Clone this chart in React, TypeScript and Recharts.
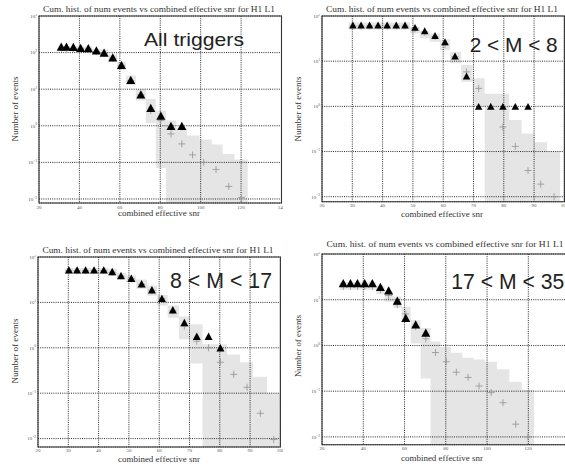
import React from 'react';
import { ComposedChart, Area, Scatter, XAxis, YAxis, CartesianGrid, ReferenceArea } from 'recharts';

// a lower bound of zero, below the bottom of every log axis
const ZERO = 1e-4;

// All triggers
const binEdges1 = [29.7, 32.3, 35.3, 38.8, 42.5, 46.4, 50.3, 54.3, 58.6, 63.1, 67.9, 72.8, 77.8, 82.8, 88, 93.3, 99.5, 105.5, 110.9, 116.7, 123.3];
const bandLo1 = [110, 110, 108, 106, 104, 90, 79, 58, 33, 13, 4.9, 1.2, 0.07, ZERO, ZERO, ZERO, ZERO, ZERO, ZERO, ZERO, ZERO];
const bandHi1 = [152, 152, 150, 148, 146, 126, 123, 89, 56, 23.6, 10, 5.4, 2.6, 1.4, 0.85, 0.54, 0.42, 0.31, 0.17, 0.12, 0.12];
const trigX1 = [31, 33.6, 37, 40.6, 44.4, 48.4, 52.2, 56.5, 60.8, 65.4, 70.4, 75.3, 80.3, 85.3, 90.7];
const trigY1 = [145, 145, 143, 135, 133, 115, 100, 74, 46, 18, 7.2, 3.1, 1.9, 1.0, 1.0];
const bgX1 = [31, 33.6, 37, 40.6, 44.4, 48.4, 52.2, 56.5, 60.8, 65.4, 70.4, 75.3, 80.3, 85.3, 90.7, 96, 101.5, 107.6, 113.9, 120.2];
const bgY1 = [130, 130, 128, 126, 124, 106, 96, 70, 44, 17, 7, 2.6, 1.4, 0.6, 0.32, 0.16, 0.1, 0.064, 0.022, 0.011];

// 2 < M < 8
const binEdges2 = [28.8, 31.5, 34.3, 37.1, 40, 43, 46, 49, 52.3, 55.5, 58.9, 62.3, 65.9, 69.7, 73.7, 77.7, 81.8, 85.9, 90.1, 94.3, 98.6];
const bandLo2 = [50, 50, 50, 50, 50, 50, 50, 41, 32, 27, 17.5, 9, 3.5, 1.0, ZERO, ZERO, ZERO, ZERO, ZERO, ZERO, ZERO];
const bandHi2 = [72, 72, 72, 72, 72, 72, 72, 58, 47, 41, 30, 16, 8.2, 4.2, 1.9, 1.9, 0.5, 0.25, 0.16, 0.1, 0.1];
const trigX2 = [30.2, 32.9, 35.7, 38.5, 41.5, 44.5, 47.4, 50.7, 53.9, 57.3, 60.6, 63.9, 67.7, 71.7, 75.7, 79.7, 83.8, 88];
const trigY2 = [63, 63, 63, 63, 63, 63, 63, 56, 47, 37, 27, 13, 4.7, 1, 1, 1, 1, 1];
const bgX2 = [30.2, 32.9, 35.7, 38.5, 41.5, 44.5, 47.4, 50.7, 53.9, 57.3, 60.6, 63.9, 67.7, 71.7, 75.7, 79.7, 83.8, 88, 92.2, 96.6];
const bgY2 = [60, 60, 60, 60, 60, 60, 60, 52, 44, 35, 23, 12.5, 5.8, 2.5, 1.0, 0.35, 0.13, 0.038, 0.019, 0.01];

// 8 < M < 17
const binEdges3 = [28.8, 31.5, 34.3, 37.1, 40.1, 43.1, 46, 49, 52.4, 56, 59.3, 62.8, 66.5, 70.3, 74.3, 78.4, 82.4, 86.7, 91, 95.6, 100.2];
const bandLo3 = [42, 42, 42, 42, 42, 39, 33, 28, 20, 14, 8.5, 4.6, 1.55, 0.45, ZERO, ZERO, ZERO, ZERO, ZERO, ZERO, ZERO];
const bandHi3 = [57, 57, 57, 57, 57, 55, 45, 39, 32, 23.5, 14.6, 8.5, 4.9, 3.3, 1.2, 1.2, 0.71, 0.48, 0.23, 0.1, 0.1];
const trigX3 = [30.2, 32.9, 35.7, 38.5, 41.7, 44.5, 47.4, 50.8, 54.2, 57.6, 60.9, 64.5, 68.3, 72.4, 76.3, 80.2];
const trigY3 = [52, 52, 52, 52, 52, 48, 39, 34, 25.7, 19, 12.3, 6.9, 3.6, 1.8, 1.8, 1.0];
const bgX3 = [30.2, 32.9, 35.7, 38.5, 41.7, 44.5, 47.4, 50.8, 54.2, 57.6, 60.9, 64.5, 68.3, 72.4, 76.3, 80.2, 84.6, 89, 93.4, 97.8];
const bgY3 = [50, 50, 50, 50, 50, 46, 38, 33, 25, 18.5, 12, 6.5, 3.0, 1.4, 1.0, 0.48, 0.26, 0.135, 0.036, 0.0096];

// 17 < M < 35
const binEdges4 = [28.6, 32, 35.5, 39, 42.5, 46.3, 50.3, 54.4, 58.5, 63, 67.8, 72.6, 77.5, 82.5, 88, 93.5, 99, 104.8, 110.8, 116.8, 122.8];
const bandLo4 = [16.5, 16.5, 16.5, 16.5, 16.5, 13.3, 9, 6.6, 3.35, 1.1, 0.19, ZERO, ZERO, ZERO, ZERO, ZERO, ZERO, ZERO, ZERO, ZERO, ZERO];
const bandHi4 = [24, 24, 24, 24, 24, 20.5, 15, 11.8, 7, 3.6, 2.4, 1.22, 0.93, 0.69, 0.54, 0.49, 0.44, 0.3, 0.16, 0.107, 0.107];
const trigX4 = [30.3, 33.8, 37.2, 40.7, 44.4, 48.3, 52.3, 56.5, 60.6, 65.4, 70.3];
const trigY4 = [23, 23, 23, 23, 23, 19, 16, 9.6, 4, 2.9, 1.9];
const bgX4 = [30.3, 33.8, 37.2, 40.7, 44.4, 48.3, 52.3, 56.5, 60.6, 65.4, 70.3, 75, 80.2, 85.1, 90.8, 96.1, 102, 107.7, 113.9, 119.8];
const bgY4 = [19.5, 19.5, 19.5, 19.5, 19.5, 16.5, 12.4, 7.8, 4.9, 2.6, 1.4, 0.7, 0.44, 0.26, 0.2, 0.13, 0.093, 0.056, 0.019, 0.01];

const xTicksWide = [20, 40, 60, 80, 100, 120, 140];
const xTicksNarrow = [20, 30, 40, 50, 60, 70, 80, 90, 100];
const yTicks3 = [0.01, 0.1, 1, 10, 100, 1000];
const yTicks2 = [0.01, 0.1, 1, 10, 100];

const TITLE = 'Cum. hist. of num events vs combined effective snr for H1 L1';

const panels = [
  {
    label: 'All triggers', edges: binEdges1, lo: bandLo1, hi: bandHi1, tx: trigX1, ty: trigY1, bx: bgX1, by: bgY1,
    xMax: 140, xTicks: xTicksWide, yMin: Math.pow(10, -2.11), yMax: 1000, yTicks: yTicks3,
    box: { left: 38.5, right: 281, top: 16, bottom: 203 }, tri: 9,
    title: { x: 159, y: 12, w: 232 }, xl: { x: 159, y: 216 }, yl: { x: 17.5, y: 109, w: 65 },
    big: { x: 144, y: 46, w: 100, s: 19 },
  },
  {
    label: '2 < M < 8', edges: binEdges2, lo: bandLo2, hi: bandHi2, tx: trigX2, ty: trigY2, bx: bgX2, by: bgY2,
    xMax: 100, xTicks: xTicksNarrow, yMin: Math.pow(10, -2.11), yMax: 100, yTicks: yTicks2,
    box: { left: 321.8, right: 564.2, top: 16, bottom: 201.7 }, tri: 7.5,
    title: { x: 442, y: 12, w: 232 }, xl: { x: 442, y: 216.5 }, yl: { x: 300.5, y: 109, w: 65 },
    big: { x: 469.7, y: 51.7, w: 88, s: 21 },
  },
  {
    label: '8 < M < 17', edges: binEdges3, lo: bandLo3, hi: bandHi3, tx: trigX3, ty: trigY3, bx: bgX3, by: bgY3,
    xMax: 100, xTicks: xTicksNarrow, yMin: Math.pow(10, -2.185), yMax: 100, yTicks: yTicks2,
    box: { left: 38.3, right: 280.7, top: 256.7, bottom: 446.7 }, tri: 8,
    title: { x: 158, y: 253, w: 231 }, xl: { x: 159, y: 462 }, yl: { x: 17.5, y: 351, w: 65 },
    big: { x: 170, y: 288.3, w: 102, s: 22 },
  },
  {
    label: '17 < M < 35', edges: binEdges4, lo: bandLo4, hi: bandHi4, tx: trigX4, ty: trigY4, bx: bgX4, by: bgY4,
    xMax: 140, xTicks: xTicksWide, yMin: Math.pow(10, -2.17), yMax: 100, yTicks: yTicks2,
    box: { left: 322.3, right: 569.9, top: 254.3, bottom: 445 }, tri: 9,
    title: { x: 445, y: 247.3, w: 237 }, xl: { x: 442, y: 460.5 }, yl: { x: 300.5, y: 346, w: 62 },
    big: { x: 451.3, y: 289.3, w: 113, s: 22 },
  },
];

const YW = 30;
const XH = 12;
const MT = 2;
const MR = 2;

const YTick = (props: any) => {
  const { x, y, payload } = props;
  const e = Math.round(Math.log10(payload.value));
  return (
    <text x={x} y={y + 1.8} textAnchor="end" fontSize={5} fill="#555" fontFamily="Liberation Serif">
      10<tspan dy={-2.2} fontSize={3.6}>{e < 0 ? '\u2212' + -e : String(e)}</tspan>
    </text>
  );
};

const XTick = (props: any) => {
  const { x, y, payload } = props;
  return (
    <text x={x} y={y + 4.5} textAnchor="middle" fontSize={5} fill="#555" fontFamily="Liberation Serif">
      {payload.value}
    </text>
  );
};

const triShape = (size: number) => (props: any) => {
  const { cx, cy } = props;
  const h = size * 0.92;
  return (
    <polygon
      points={`${cx},${cy - h / 2} ${cx - size / 2},${cy + h / 2} ${cx + size / 2},${cy + h / 2}`}
      fill="#000"
    />
  );
};

const PlusShape = (props: any) => {
  const { cx, cy } = props;
  return (
    <g stroke="#9a9a9a" strokeWidth={0.9}>
      <line x1={cx - 3.5} y1={cy} x2={cx + 3.5} y2={cy} />
      <line x1={cx} y1={cy - 3.5} x2={cx} y2={cy + 3.5} />
    </g>
  );
};

function Panel({ p }: { p: any }) {
  const { box } = p;
  const width = box.right - box.left + YW + MR;
  const height = box.bottom - box.top + MT + XH;
  const band = p.edges.map((x: number, i: number) => ({ x, band: [p.lo[i], p.hi[i]] }));
  const trig = p.tx.map((x: number, i: number) => ({ x, y: p.ty[i] }));
  const bg = p.bx.map((x: number, i: number) => ({ x, y: p.by[i] }));
  return (
    <div style={{ position: 'absolute', left: box.left - YW, top: box.top - MT }}>
      <ComposedChart width={width} height={height} data={band} margin={{ top: MT, right: MR, bottom: 0, left: 0 }}>
        <CartesianGrid stroke="#111" strokeDasharray="1 1.2" strokeWidth={0.9} />
        <XAxis
          type="number" dataKey="x" domain={[20, p.xMax]} ticks={p.xTicks} allowDataOverflow
          height={XH} tickSize={0} tickMargin={1} axisLine={false} tick={<XTick />} interval={0}
        />
        <YAxis
          type="number" dataKey="y" scale="log" domain={[p.yMin, p.yMax]} ticks={p.yTicks} allowDataOverflow
          width={YW} tickSize={0} tickMargin={2} axisLine={false} tick={<YTick />} interval={0}
        />
        <Area
          dataKey="band" type="stepAfter" fill="#000" fillOpacity={0.1} stroke="none"
          isAnimationActive={false} dot={false} activeDot={false}
        />
        <Scatter data={bg} shape={PlusShape} isAnimationActive={false} />
        <Scatter data={trig} shape={triShape(p.tri)} isAnimationActive={false} />
        <ReferenceArea x1={20} x2={p.xMax} y1={p.yMin} y2={p.yMax} fill="none" stroke="#333" strokeWidth={1.1} ifOverflow="visible" />
      </ComposedChart>
    </div>
  );
}

export default function App() {
  return (
    <div style={{ position: 'absolute', left: 0, top: 0, width: 565, height: 469, overflow: 'hidden', background: '#fff' }}>
      {panels.map((p) => (
        <Panel key={p.label} p={p} />
      ))}
      <svg width={565} height={469} style={{ position: 'absolute', left: 0, top: 0, pointerEvents: 'none' }}>
        {panels.map((p) => (
          <g key={p.label}>
            <text x={p.title.x} y={p.title.y} textAnchor="middle" fontSize={8.5} fill="#333"
              fontFamily="Liberation Serif" textLength={p.title.w} lengthAdjust="spacingAndGlyphs">
              {TITLE}
            </text>
            <text x={p.xl.x} y={p.xl.y} textAnchor="middle" fontSize={8.5} fill="#333"
              fontFamily="Liberation Serif" textLength={82} lengthAdjust="spacingAndGlyphs">
              combined effective snr
            </text>
            <text x={p.yl.x} y={p.yl.y} textAnchor="middle" fontSize={8.5} fill="#333"
              fontFamily="Liberation Serif" textLength={p.yl.w} lengthAdjust="spacingAndGlyphs"
              transform={`rotate(-90 ${p.yl.x} ${p.yl.y})`}>
              Number of events
            </text>
            <text x={p.big.x} y={p.big.y} fontSize={p.big.s} fill="#222"
              fontFamily="Liberation Sans" textLength={p.big.w} lengthAdjust="spacingAndGlyphs">
              {p.label}
            </text>
          </g>
        ))}
      </svg>
    </div>
  );
}
